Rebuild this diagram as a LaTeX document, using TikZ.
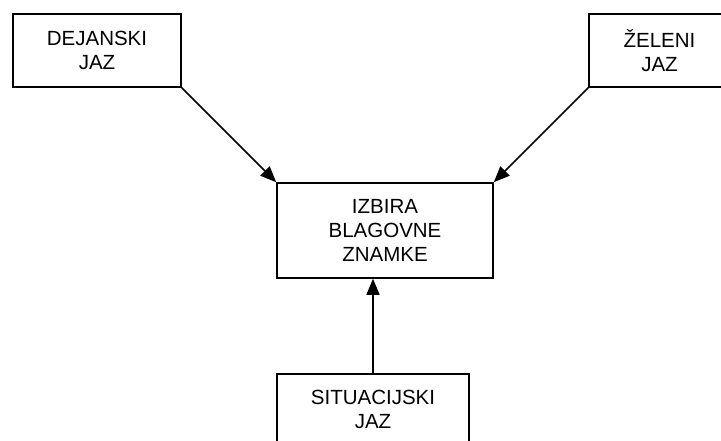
\documentclass[tikz,border=0pt]{standalone}
\usepackage{fontspec}
\setmainfont{Liberation Sans}
\usetikzlibrary{arrows.meta}
\begin{document}
\begin{tikzpicture}[x=1pt,y=-1pt,
  box/.style={draw, line width=1.5pt, inner sep=0pt, align=center,
    font=\fontsize{20.5}{24}\selectfont},
  conn/.style={line width=1.5pt, -{Triangle[length=16pt,width=13pt]}}]
\useasboundingbox (0,0) rectangle (721,440);
\node[box, minimum width=168pt, minimum height=73pt] (dej) at (97,50.5) {DEJANSKI\\JAZ};
\node[box, minimum width=141pt, minimum height=73pt] (zel) at (659.5,50.5) {ŽELENI\\JAZ};
\node[box, minimum width=216pt, minimum height=95pt] (izb) at (385,230.5) {IZBIRA\\BLAGOVNE\\ZNAMKE};
\node[box, minimum width=192pt, minimum height=71pt] (sit) at (373,409.5) {SITUACIJSKI\\JAZ};
\draw[conn] (dej.south east) -- (izb.north west);
\draw[conn] (zel.south west) -- (izb.north east);
\draw[conn] (sit.north) -- (sit.north |- izb.south);
\end{tikzpicture}
\end{document}
